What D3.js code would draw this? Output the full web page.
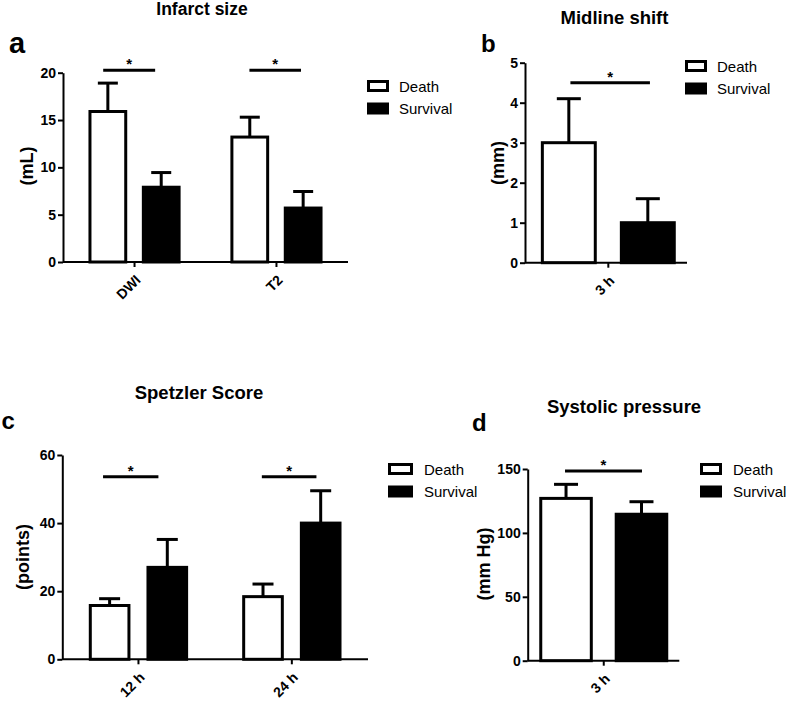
<!DOCTYPE html>
<html><head><meta charset="utf-8">
<script src="https://cdn.jsdelivr.net/npm/d3@7"></script>
<style>
body{margin:0;background:#fff}
svg{display:block}
text{font-family:"Liberation Sans",Arial,Helvetica,sans-serif;fill:#000}
</style>
</head><body>
<script>
// ---------- data ----------
const seriesNames = ["Death", "Survival"];

const aCategories = ["DWI", "T2"];
const aDeath = [15.9, 13.2];
const aDeathSD = [3.0, 2.1];
const aSurvival = [7.9, 5.7];
const aSurvivalSD = [1.55, 1.75];
const aTicks = [0, 5, 10, 15, 20];
const aSig = [20.25, 20.25];

const bCategories = ["3 h"];
const bDeath = [3.0];
const bDeathSD = [1.1];
const bSurvival = [1.0];
const bSurvivalSD = [0.6];
const bTicks = [0, 1, 2, 3, 4, 5];
const bSig = [4.5];

const cCategories = ["12 h", "24 h"];
const cDeath = [15.8, 18.4];
const cDeathSD = [2.0, 3.7];
const cSurvival = [27.0, 40.0];
const cSurvivalSD = [8.2, 9.5];
const cTicks = [0, 20, 40, 60];
const cSig = [53.6, 53.6];

const dCategories = ["3 h"];
const dDeath = [127];
const dDeathSD = [11];
const dSurvival = [114.6];
const dSurvivalSD = [9.8];
const dTicks = [0, 50, 100, 150];
const dSig = [148.4];

// ---------- layout ----------
const panels = [
  {cats: aCategories, death: aDeath, deathSD: aDeathSD, surv: aSurvival, survSD: aSurvivalSD, ticks: aTicks, sig: aSig,
   title: "Infarct size", letter: "a", ylabel: "(mL)",
   x0: 63, x1: 348, yBottom: 262, yTop: 72.7, pi: 0.372, po: 0.19, align: 0.5, cap: 20,
   sigFrac: [[0.37, 0.33], [0.49, 0.44]],
   titleX: 202, titleY: 15, titleSize: 17.5, letterX: 9, letterY: 53, letterSize: 29,
   ylabelX: 27, ylabelY: 166, legX: 367, legY: 80, legW: 22, legText: 32},
  {cats: bCategories, death: bDeath, deathSD: bDeathSD, surv: bSurvival, survSD: bSurvivalSD, ticks: bTicks, sig: bSig,
   title: "Midline shift", letter: "b", ylabel: "(mm)",
   x0: 525, x1: 687, yBottom: 262.7, yTop: 62.7, pi: 0, po: 0.114, align: 0.577, cap: 24,
   sigFrac: [[0.53, 0.54]],
   titleX: 614.5, titleY: 24, titleSize: 18.5, letterX: 481, letterY: 52, letterSize: 24,
   ylabelX: 498, ylabelY: 163, legX: 685, legY: 60, legW: 22, legText: 32},
  {cats: cCategories, death: cDeath, deathSD: cDeathSD, surv: cSurvival, survSD: cSurvivalSD, ticks: cTicks, sig: cSig,
   title: "Spetzler Score", letter: "c", ylabel: "(points)",
   x0: 62.3, x1: 368, yBottom: 659.3, yTop: 455, pi: 0.372, po: 0.1825, align: 0.5, cap: 21,
   sigFrac: [[0.33, 0.27], [0.47, 0.39]],
   titleX: 199, titleY: 399, titleSize: 18.5, letterX: 1.5, letterY: 429, letterSize: 24,
   ylabelX: 22.5, ylabelY: 557, legX: 388, legY: 463, legW: 25, legText: 36},
  {cats: dCategories, death: dDeath, deathSD: dDeathSD, surv: dSurvival, survSD: dSurvivalSD, ticks: dTicks, sig: dSig,
   title: "Systolic pressure", letter: "d", ylabel: "(mm Hg)",
   x0: 527.7, x1: 679.3, yBottom: 660.7, yTop: 469, pi: 0, po: 0.1016, align: 0.51, cap: 24,
   sigFrac: [[0.48, 0.51]],
   titleX: 624, titleY: 413, titleSize: 18.5, letterX: 472, letterY: 431, letterSize: 24,
   ylabelX: 484, ylabelY: 564, legX: 700, legY: 463, legW: 22, legText: 33}
];

const svg = d3.select("body").append("svg").attr("width", 787).attr("height", 704);

panels.forEach(P => {
  const g = svg.append("g");
  const y = d3.scaleLinear().domain([0, d3.max(P.ticks)]).range([P.yBottom, P.yTop]);
  const x = d3.scaleBand().domain(P.cats).range([P.x0, P.x1])
    .paddingInner(P.pi).paddingOuter(P.po).align(P.align);
  const xi = d3.scaleBand().domain(seriesNames).range([0, x.bandwidth()]).paddingInner(0.33);

  const rows = [];
  P.cats.forEach((c, i) => {
    rows.push({cat: c, s: "Death", v: P.death[i], sd: P.deathSD[i]});
    rows.push({cat: c, s: "Survival", v: P.surv[i], sd: P.survSD[i]});
  });

  // bars
  g.selectAll("rect.bar").data(rows).join("rect")
    .attr("class", "bar")
    .attr("x", d => x(d.cat) + xi(d.s))
    .attr("y", d => y(d.v))
    .attr("width", xi.bandwidth())
    .attr("height", d => y(0) - y(d.v))
    .attr("fill", d => d.s === "Death" ? "#fff" : "#000")
    .attr("stroke", "#000").attr("stroke-width", 3);

  // error bars
  rows.forEach(d => {
    const cx = x(d.cat) + xi(d.s) + xi.bandwidth() / 2;
    g.append("line").attr("x1", cx).attr("x2", cx)
      .attr("y1", y(d.v)).attr("y2", y(d.v + d.sd))
      .attr("stroke", "#000").attr("stroke-width", 3);
    g.append("line").attr("x1", cx - P.cap / 2).attr("x2", cx + P.cap / 2)
      .attr("y1", y(d.v + d.sd)).attr("y2", y(d.v + d.sd))
      .attr("stroke", "#000").attr("stroke-width", 3);
  });

  // significance lines
  P.cats.forEach((c, i) => {
    const xa = x(c) + xi("Death") + xi.bandwidth() * P.sigFrac[i][0];
    const xb = x(c) + xi("Survival") + xi.bandwidth() * P.sigFrac[i][1];
    const yy = y(P.sig[i]);
    g.append("line").attr("x1", xa).attr("x2", xb).attr("y1", yy).attr("y2", yy)
      .attr("stroke", "#000").attr("stroke-width", 3);
    g.append("text").attr("x", (xa + xb) / 2).attr("y", yy - 1)
      .attr("text-anchor", "middle").attr("font-size", 15).attr("font-weight", "bold").text("*");
  });

  // y axis
  const ya = g.append("g").attr("transform", `translate(${P.x0},0)`)
    .call(d3.axisLeft(y).tickValues(P.ticks).tickFormat(d3.format("d"))
      .tickSize(5).tickSizeOuter(0).tickPadding(2));
  ya.select(".domain").attr("stroke-width", 2);
  ya.selectAll(".tick line").attr("stroke-width", 2);
  ya.selectAll(".tick text").attr("font-size", 14).attr("font-weight", "bold")
    .attr("font-family", "'Liberation Sans',Arial,sans-serif").attr("fill", "#000");

  // x axis
  g.append("line").attr("x1", P.x0).attr("x2", P.x1).attr("y1", y(0)).attr("y2", y(0))
    .attr("stroke", "#000").attr("stroke-width", 2);
  P.cats.forEach(c => {
    const cx = x(c) + x.bandwidth() / 2;
    g.append("line").attr("x1", cx).attr("x2", cx).attr("y1", y(0)).attr("y2", y(0) + 5)
      .attr("stroke", "#000").attr("stroke-width", 2);
    g.append("text")
      .attr("transform", `translate(${cx + 7},${y(0) + 19}) rotate(-45)`)
      .attr("text-anchor", "end").attr("font-size", 14).attr("font-weight", "bold").text(c);
  });

  // title, letter, y label
  g.append("text").attr("x", P.titleX).attr("y", P.titleY).attr("text-anchor", "middle")
    .attr("font-size", P.titleSize).attr("font-weight", "bold").text(P.title);
  g.append("text").attr("x", P.letterX).attr("y", P.letterY)
    .attr("font-size", P.letterSize).attr("font-weight", "bold").text(P.letter);
  g.append("text").attr("transform", `translate(${P.ylabelX},${P.ylabelY}) rotate(-90)`)
    .attr("text-anchor", "middle").attr("dominant-baseline", "central")
    .attr("font-size", 18).attr("font-weight", "bold").text(P.ylabel);

  // legend
  seriesNames.forEach((s, k) => {
    const ly = P.legY + k * 22.5;
    g.append("rect").attr("x", P.legX + 1.5).attr("y", ly + 1.5)
      .attr("width", P.legW - 3).attr("height", 9)
      .attr("fill", s === "Death" ? "#fff" : "#000").attr("stroke", "#000").attr("stroke-width", 3);
    g.append("text").attr("x", P.legX + P.legText).attr("y", ly + 11.5)
      .attr("font-size", 15).text(s);
  });
});
</script>
</body></html>
